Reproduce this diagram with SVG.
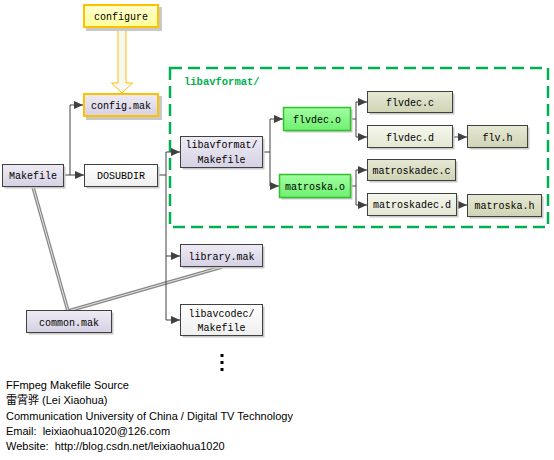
<svg xmlns="http://www.w3.org/2000/svg" width="554" height="460" viewBox="0 0 554 460">
<defs>
<linearGradient id="gLav" x1="0" y1="0" x2="0" y2="1"><stop offset="0" stop-color="#eeebf4"/><stop offset="1" stop-color="#d6d1e4"/></linearGradient>
<linearGradient id="gWhite" x1="0" y1="0" x2="0" y2="1"><stop offset="0" stop-color="#ffffff"/><stop offset="1" stop-color="#efefef"/></linearGradient>
<linearGradient id="gYel" x1="0" y1="0" x2="0" y2="1"><stop offset="0" stop-color="#ffffd0"/><stop offset="1" stop-color="#ffff99"/></linearGradient>
<linearGradient id="gGreen" x1="0" y1="0" x2="0" y2="1"><stop offset="0" stop-color="#a0ffa0"/><stop offset="1" stop-color="#70f070"/></linearGradient>
<linearGradient id="gOlive" x1="0" y1="0" x2="0" y2="1"><stop offset="0" stop-color="#e6e8d4"/><stop offset="1" stop-color="#d0d4b4"/></linearGradient>
<linearGradient id="gOliveL" x1="0" y1="0" x2="0" y2="1"><stop offset="0" stop-color="#f6f7ee"/><stop offset="1" stop-color="#e4e7d2"/></linearGradient>
<marker id="arr" markerWidth="9" markerHeight="8" refX="9" refY="4" orient="auto" markerUnits="userSpaceOnUse"><path d="M0,0 L9,4 L0,8 Z" fill="#404040"/></marker>
</defs>
<style>
.box{stroke:#404040;stroke-width:1}
.sh{fill:#c8c8c8}
.t{font-family:"Liberation Mono","DejaVu Sans Mono",monospace;font-size:10px;fill:#000;text-anchor:middle}
.conn path{fill:none;stroke:#404040;stroke-width:1}
.gl1{fill:none;stroke:#8a8a8a;stroke-width:3.5}
.gl2{fill:none;stroke:#e4e4e4;stroke-width:1}
.note{font-family:"Liberation Sans","Noto Sans CJK SC",sans-serif;font-size:11px;fill:#000;white-space:pre}
</style>
<rect width="554" height="460" fill="#fff"/>

<g id="libavformat-dir">
<rect x="170" y="68" width="378" height="159" fill="none" stroke="#00b050" stroke-width="2.5" stroke-dasharray="12 6"/>
<text x="184" y="85" font-family="Liberation Mono,monospace" font-size="10.5" font-weight="bold" fill="#00b050">libavformat/</text>
</g>

<g id="include-lines">
<path class="gl1" d="M33,187 L68,311 L222,267"/>
<path class="gl2" d="M33,187 L68,311 L222,267"/>
</g>

<g class="conn" id="connectors">
<path d="M64,175 H70 V105 H83" marker-end="url(#arr)"/>
<path d="M70,175 H84" marker-end="url(#arr)"/>
<path d="M158,175 H166"/>
<path d="M166,152 V320"/>
<path d="M166,152 H180" marker-end="url(#arr)"/>
<path d="M166,256 H180" marker-end="url(#arr)"/>
<path d="M166,320 H180" marker-end="url(#arr)"/>
<path d="M263,152 H270"/>
<path d="M270,119 V186"/>
<path d="M270,119 H283" marker-end="url(#arr)"/>
<path d="M270,186 H279" marker-end="url(#arr)"/>
<path d="M351,119 H356"/>
<path d="M356,102 V137"/>
<path d="M356,102 H367" marker-end="url(#arr)"/>
<path d="M356,137 H367" marker-end="url(#arr)"/>
<path d="M351,186 H356"/>
<path d="M356,170 V205"/>
<path d="M356,170 H367" marker-end="url(#arr)"/>
<path d="M356,205 H367" marker-end="url(#arr)"/>
<path d="M453,137 H467" marker-end="url(#arr)"/>
<path d="M457,205 H467" marker-end="url(#arr)"/>
</g>

<g id="configure-arrow">
<path d="M118,28 V83 H111.5 L122,93 L132.5,83 H126 V28 Z" fill="#f8f8f4" stroke="#ffc000" stroke-width="1"/>
</g>

<g id="configure">
<rect class="sh" x="86" y="7" width="76" height="24"/>
<rect x="84" y="5" width="74" height="22" fill="url(#gYel)" stroke="#ffc000" stroke-width="2"/>
<text class="t" x="121" y="19.5">configure</text>
</g>
<g id="config-mak">
<rect class="sh" x="86" y="96" width="76" height="24"/>
<rect x="84" y="94" width="74" height="22" fill="url(#gLav)" stroke="#ffc000" stroke-width="2"/>
<text class="t" x="121" y="108.5">config.mak</text>
</g>
<g id="makefile">
<rect class="sh" x="4.5" y="166.5" width="61" height="22"/>
<rect class="box" x="2.5" y="164.5" width="61" height="22" fill="url(#gLav)"/>
<text class="t" x="33" y="179">Makefile</text>
</g>
<g id="dosubdir">
<rect class="sh" x="86.5" y="166.5" width="73" height="22"/>
<rect class="box" x="84.5" y="164.5" width="73" height="22" fill="url(#gWhite)"/>
<text class="t" x="121" y="179">DOSUBDIR</text>
</g>
<g id="libavformat-makefile">
<rect class="sh" x="182.5" y="138.5" width="82" height="31"/>
<rect class="box" x="180.5" y="136.5" width="82" height="31" fill="url(#gLav)"/>
<text class="t" x="221.5" y="148">libavformat/</text>
<text class="t" x="221.5" y="163">Makefile</text>
</g>
<g id="library-mak">
<rect class="sh" x="182.5" y="246.5" width="82" height="22"/>
<rect class="box" x="180.5" y="244.5" width="82" height="22" fill="url(#gLav)"/>
<text class="t" x="221.5" y="259.5">library.mak</text>
</g>
<g id="libavcodec-makefile">
<rect class="sh" x="182.5" y="306.5" width="82" height="31"/>
<rect class="box" x="180.5" y="304.5" width="82" height="31" fill="url(#gWhite)"/>
<text class="t" x="221.5" y="317">libavcodec/</text>
<text class="t" x="221.5" y="331">Makefile</text>
</g>
<g id="common-mak">
<rect class="sh" x="28.5" y="312.5" width="85" height="22"/>
<rect class="box" x="26.5" y="310.5" width="85" height="22" fill="url(#gLav)"/>
<text class="t" x="69" y="325.5">common.mak</text>
</g>
<g id="flvdec-o">
<rect class="sh" x="285.5" y="109.5" width="67" height="23"/>
<rect x="283.5" y="107.5" width="67" height="23" fill="url(#gGreen)" stroke="#30c030" stroke-width="1.5"/>
<text class="t" x="317" y="122.5">flvdec.o</text>
</g>
<g id="matroska-o">
<rect class="sh" x="281.5" y="176.5" width="71" height="23"/>
<rect x="279.5" y="174.5" width="71" height="23" fill="url(#gGreen)" stroke="#30c030" stroke-width="1.5"/>
<text class="t" x="315" y="189.5">matroska.o</text>
</g>
<g id="flvdec-c">
<rect class="sh" x="369.5" y="93.5" width="85" height="21"/>
<rect class="box" x="367.5" y="91.5" width="85" height="21" fill="url(#gOlive)"/>
<text class="t" x="410" y="105.5">flvdec.c</text>
</g>
<g id="flvdec-d">
<rect class="sh" x="369.5" y="127.5" width="85" height="22"/>
<rect class="box" x="367.5" y="125.5" width="85" height="22" fill="url(#gOliveL)"/>
<text class="t" x="410" y="140.5">flvdec.d</text>
</g>
<g id="flv-h">
<rect class="sh" x="469.5" y="127.5" width="60" height="22"/>
<rect class="box" x="467.5" y="125.5" width="60" height="22" fill="url(#gOlive)"/>
<text class="t" x="497.5" y="140.5">flv.h</text>
</g>
<g id="matroskadec-c">
<rect class="sh" x="369.5" y="161.5" width="88" height="21"/>
<rect class="box" x="367.5" y="159.5" width="88" height="21" fill="url(#gOlive)"/>
<text class="t" x="411.5" y="173.5">matroskadec.c</text>
</g>
<g id="matroskadec-d">
<rect class="sh" x="369.5" y="195.5" width="89" height="22"/>
<rect class="box" x="367.5" y="193.5" width="89" height="22" fill="url(#gOliveL)"/>
<text class="t" x="412" y="208">matroskadec.d</text>
</g>
<g id="matroska-h">
<rect class="sh" x="469.5" y="196.5" width="74" height="22"/>
<rect class="box" x="467.5" y="194.5" width="74" height="22" fill="url(#gOlive)"/>
<text class="t" x="504.5" y="209">matroska.h</text>
</g>

<g id="ellipsis" fill="#000">
<rect x="220.5" y="354" width="3" height="3"/>
<rect x="220.5" y="361" width="3" height="3"/>
<rect x="220.5" y="368" width="3" height="3"/>
</g>

<g id="credits">
<text class="note" x="6" y="389">FFmpeg Makefile Source</text>
<text class="note" x="6" y="404">雷霄骅 (Lei Xiaohua)</text>
<text class="note" x="6" y="420">Communication University of China / Digital TV Technology</text>
<text class="note" x="6" y="435">Email:  leixiaohua1020@126.com</text>
<text class="note" x="6" y="450">Website:  http://blog.csdn.net/leixiaohua1020</text>
</g>
</svg>
